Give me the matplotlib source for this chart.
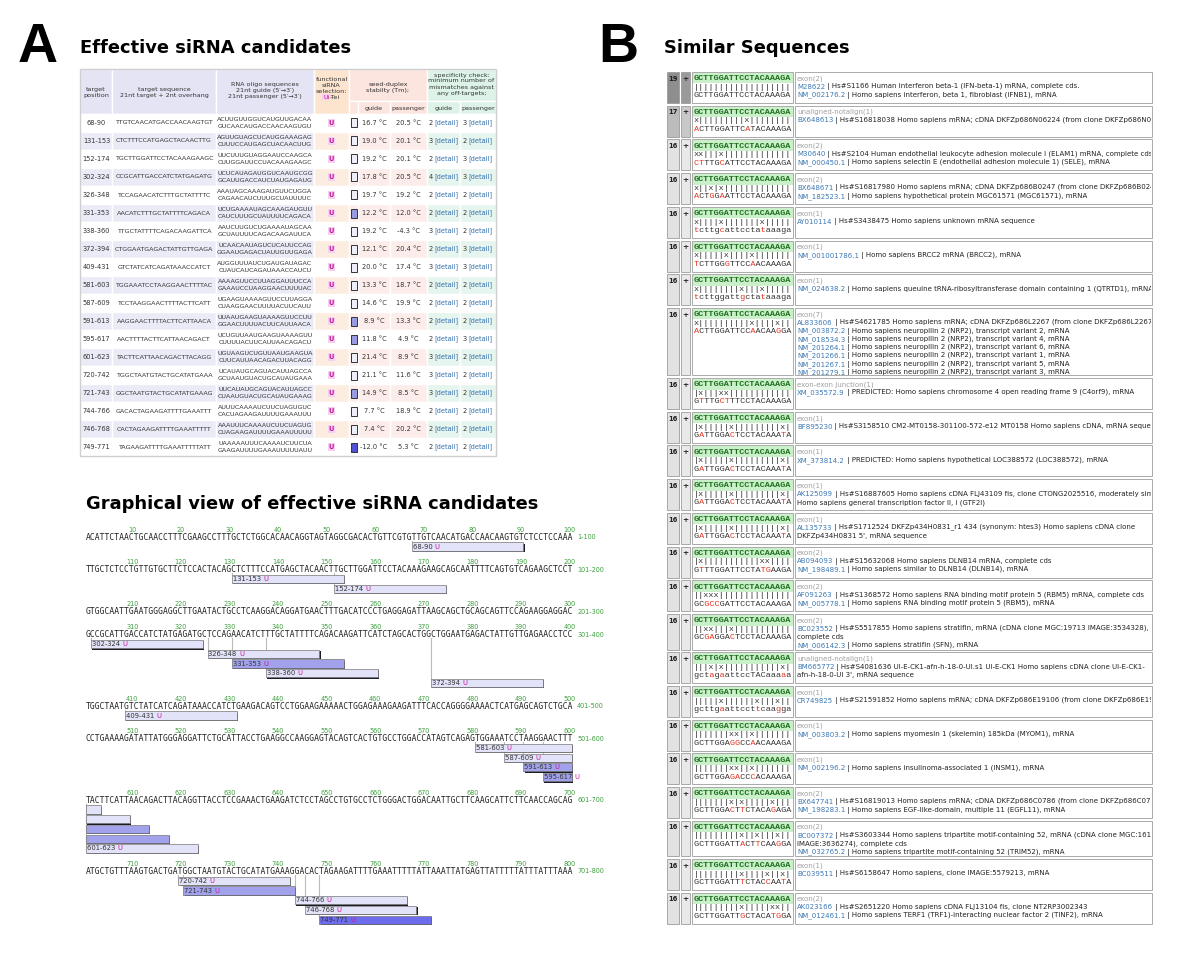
#%%
import matplotlib
matplotlib.use('Agg')
import matplotlib.pyplot as plt
from matplotlib.patches import Rectangle
from matplotlib.transforms import Bbox, TransformedBbox

# mRNA shown in the graphical view, 100 nt per line
mrna_lines = [
    'ACATTCTAACTGCAACCTTTCGAAGCCTTTGCTCTGGCACAACAGGTAGTAGGCGACACTGTTCGTGTTGTCAACATGACCAACAAGTGTCTCCTCCAAA',
    'TTGCTCTCCTGTTGTGCTTCTCCACTACAGCTCTTTCCATGAGCTACAACTTGCTTGGATTCCTACAAAGAAGCAGCAATTTTCAGTGTCAGAAGCTCCT',
    'GTGGCAATTGAATGGGAGGCTTGAATACTGCCTCAAGGACAGGATGAACTTTGACATCCCTGAGGAGATTAAGCAGCTGCAGCAGTTCCAGAAGGAGGAC',
    'GCCGCATTGACCATCTATGAGATGCTCCAGAACATCTTTGCTATTTTCAGACAAGATTCATCTAGCACTGGCTGGAATGAGACTATTGTTGAGAACCTCC',
    'TGGCTAATGTCTATCATCAGATAAACCATCTGAAGACAGTCCTGGAAGAAAAACTGGAGAAAGAAGATTTCACCAGGGGAAAACTCATGAGCAGTCTGCA',
    'CCTGAAAAGATATTATGGGAGGATTCTGCATTACCTGAAGGCCAAGGAGTACAGTCACTGTGCCTGGACCATAGTCAGAGTGGAAATCCTAAGGAACTTT',
    'TACTTCATTAACAGACTTACAGGTTACCTCCGAAACTGAAGATCTCCTAGCCTGTGCCTCTGGGACTGGACAATTGCTTCAAGCATTCTTCAACCAGCAG',
    'ATGCTGTTTAAGTGACTGATGGCTAATGTACTGCATATGAAAGGACACTAGAAGATTTTGAAATTTTTATTAAATTATGAGTTATTTTTATTTATTTAAA',
]

# effective siRNA candidates (panel A table)
sirna_start = [68, 131, 152, 302, 326, 331, 338, 372, 409, 581, 587, 591, 595, 601, 720, 721, 744, 746, 749]
tm_guide = [16.7, 19.0, 19.2, 17.8, 19.7, 12.2, 19.2, 12.1, 20.0, 13.3, 14.6, 8.9, 11.8, 21.4, 21.1, 14.9, 7.7, 7.4, -12.0]
tm_passenger = [20.5, 20.1, 20.1, 20.5, 19.2, 12.0, -4.3, 20.4, 17.4, 18.7, 19.9, 13.3, 4.9, 8.9, 11.6, 8.5, 18.9, 20.2, 5.3]
mm_guide = [2, 3, 2, 4, 2, 2, 3, 2, 3, 2, 2, 2, 2, 3, 3, 3, 2, 2, 2]
mm_passenger = [3, 2, 3, 3, 2, 2, 2, 3, 3, 2, 2, 2, 3, 2, 2, 2, 2, 2, 2]
seed_level = [0, 0, 0, 0, 0, 1, 0, 0, 0, 0, 0, 1, 1, 0, 0, 1, 0, 0, 2]  # shading of the seed box / bar

# similar sequences (panel B)
query = 'GCTTGGATTCCTACAAAGA'
sim_score = [19, 17, 16, 16, 16, 16, 16, 16, 16, 16, 16, 16, 16, 16, 16, 16, 16, 16, 16, 16, 16, 16, 16, 16]
sim_target = [
    'GCTTGGATTCCTACAAAGA', 'ACTTGGATTCATACAAAGA', 'CTTTGCATTCCTACAAAGA', 'ACTGGAATTCCTACAAAGA',
    'tcttgcattcctataaaga', 'TCTTGGGTTCCAACAAAGA', 'tcttggattgctataaaga', 'ACTTGGATTCCAACAAGGA',
    'GTTTGCTTTCCTACAAAGA', 'GATTGGACTCCTACAAATA', 'GATTGGACTCCTACAAATA', 'GATTGGACTCCTACAAATA',
    'GATTGGACTCCTACAAATA', 'GTTTGGATTCCTATGAAGA', 'GCGCCGATTCCTACAAAGA', 'GCGAGGACTCCTACAAAGA',
    'gctagaattccTACaaaaa', 'gcttgaattccttcaagga', 'GCTTGGAGGCCAACAAAGA', 'GCTTGGAGACCCACAAAGA',
    'GCTTGGACTTCTACAGAGA', 'GCTTGGATTACTTCAAGGA', 'GCTTGGATTTCTACCAATA', 'GCTTGGATTGCTACATGGA',
]
sim_region = ['exon(2)', 'unaligned-notalign(1)', 'exon(2)', 'exon(2)', 'exon(1)', 'exon(1)', 'exon(1)', 'exon(7)',
              'exon-exon junction(1)', 'exon(1)', 'exon(1)', 'exon(1)', 'exon(1)', 'exon(2)', 'exon(2)', 'exon(2)',
              'unaligned-notalign(1)', 'exon(1)', 'exon(1)', 'exon(1)', 'exon(2)', 'exon(2)', 'exon(1)', 'exon(2)']
sim_desc = [
    ['M28622 | Hs#S1166 Human interferon beta-1 (IFN-beta-1) mRNA, complete cds.',
     'NM_002176.2 | Homo sapiens interferon, beta 1, fibroblast (IFNB1), mRNA'],
    ['BX648613 | Hs#S16818038 Homo sapiens mRNA; cDNA DKFZp686N06224 (from clone DKFZp686N06224)'],
    ['M30640 | Hs#S2104 Human endothelial leukocyte adhesion molecule I (ELAM1) mRNA, complete cds.',
     'NM_000450.1 | Homo sapiens selectin E (endothelial adhesion molecule 1) (SELE), mRNA'],
    ['BX648671 | Hs#S16817980 Homo sapiens mRNA; cDNA DKFZp686B0247 (from clone DKFZp686B0247)',
     'NM_182523.1 | Homo sapiens hypothetical protein MGC61571 (MGC61571), mRNA'],
    ['AY010114 | Hs#S3438475 Homo sapiens unknown mRNA sequence'],
    ['NM_001001786.1 | Homo sapiens BRCC2 mRNA (BRCC2), mRNA'],
    ['NM_024638.2 | Homo sapiens queuine tRNA-ribosyltransferase domain containing 1 (QTRTD1), mRNA'],
    ['AL833606 | Hs#S4621785 Homo sapiens mRNA; cDNA DKFZp686L2267 (from clone DKFZp686L2267)',
     'NM_003872.2 | Homo sapiens neuropilin 2 (NRP2), transcript variant 2, mRNA',
     'NM_018534.3 | Homo sapiens neuropilin 2 (NRP2), transcript variant 4, mRNA',
     'NM_201264.1 | Homo sapiens neuropilin 2 (NRP2), transcript variant 6, mRNA',
     'NM_201266.1 | Homo sapiens neuropilin 2 (NRP2), transcript variant 1, mRNA',
     'NM_201267.1 | Homo sapiens neuropilin 2 (NRP2), transcript variant 5, mRNA',
     'NM_201279.1 | Homo sapiens neuropilin 2 (NRP2), transcript variant 3, mRNA'],
    ['XM_035572.9 | PREDICTED: Homo sapiens chromosome 4 open reading frame 9 (C4orf9), mRNA'],
    ['BF895230 | Hs#S3158510 CM2-MT0158-301100-572-e12 MT0158 Homo sapiens cDNA, mRNA sequence'],
    ['XM_373814.2 | PREDICTED: Homo sapiens hypothetical LOC388572 (LOC388572), mRNA'],
    ['AK125099 | Hs#S16887605 Homo sapiens cDNA FLJ43109 fis, clone CTONG2025516, moderately similar to',
     'Homo sapiens general transcription factor II, i (GTF2I)'],
    ['AL135733 | Hs#S1712524 DKFZp434H0831_r1 434 (synonym: htes3) Homo sapiens cDNA clone',
     "DKFZp434H0831 5', mRNA sequence"],
    ['AB094093 | Hs#S15632068 Homo sapiens DLNB14 mRNA, complete cds',
     'NM_198489.1 | Homo sapiens similar to DLNB14 (DLNB14), mRNA'],
    ['AF091263 | Hs#S1368572 Homo sapiens RNA binding motif protein 5 (RBM5) mRNA, complete cds',
     'NM_005778.1 | Homo sapiens RNA binding motif protein 5 (RBM5), mRNA'],
    ['BC023552 | Hs#S5517855 Homo sapiens stratifin, mRNA (cDNA clone MGC:19713 IMAGE:3534328),',
     'complete cds',
     'NM_006142.3 | Homo sapiens stratifin (SFN), mRNA'],
    ['BM665772 | Hs#S4081636 UI-E-CK1-afn-h-18-0-UI.s1 UI-E-CK1 Homo sapiens cDNA clone UI-E-CK1-',
     "afn-h-18-0-UI 3', mRNA sequence"],
    ['CR749825 | Hs#S21591852 Homo sapiens mRNA; cDNA DKFZp686E19106 (from clone DKFZp686E19106)'],
    ['NM_003803.2 | Homo sapiens myomesin 1 (skelemin) 185kDa (MYOM1), mRNA'],
    ['NM_002196.2 | Homo sapiens insulinoma-associated 1 (INSM1), mRNA'],
    ['BX647741 | Hs#S16819013 Homo sapiens mRNA; cDNA DKFZp686C0786 (from clone DKFZp686C0786)',
     'NM_198283.1 | Homo sapiens EGF-like-domain, multiple 11 (EGFL11), mRNA'],
    ['BC007372 | Hs#S3603344 Homo sapiens tripartite motif-containing 52, mRNA (cDNA clone MGC:16175',
     'IMAGE:3636274), complete cds',
     'NM_032765.2 | Homo sapiens tripartite motif-containing 52 (TRIM52), mRNA'],
    ['BC039511 | Hs#S6158647 Homo sapiens, clone IMAGE:5579213, mRNA'],
    ['AK023166 | Hs#S2651220 Homo sapiens cDNA FLJ13104 fis, clone NT2RP3002343',
     'NM_012461.1 | Homo sapiens TERF1 (TRF1)-interacting nuclear factor 2 (TINF2), mRNA'],
]

#%%
# helpers
full_seq = ''.join(mrna_lines)
comp = {'A': 'U', 'C': 'G', 'G': 'C', 'T': 'A'}


def target_of(start):
    return full_seq[start - 1:start + 22]


def guide_of(t):
    return ''.join(comp[c] for c in reversed(t[:21]))


def passenger_of(t):
    return t[2:].replace('T', 'U')


fig = plt.figure(figsize=(12, 9.55), dpi=100)
ax = fig.add_axes([0, 0, 1, 1])
ax.set_xlim(0, 1200)
ax.set_ylim(955, 0)
ax.axis('off')

SANS = 'DejaVu Sans'
MONO = 'DejaVu Sans Mono'
MAG = '#c0199e'
DARK = '#333333'


def cell(x0, x1, y0, y1, fc, ec='white', lw=1.0, z=1):
    ax.add_patch(Rectangle((x0, y0), x1 - x0, y1 - y0, facecolor=fc, edgecolor=ec, linewidth=lw, zorder=z))


def stack(x, ys, lines, fs=4.6, **kw):
    for y, s in zip(ys, lines):
        ax.text(x, y, s, ha='center', va='center', fontsize=fs, family=SANS, color=DARK, **kw)


# panel letters and titles
ax.text(38, 48, 'A', fontsize=40, fontweight='bold', family='Liberation Sans', ha='center', va='center')
ax.text(618, 48, 'B', fontsize=40, fontweight='bold', family='Liberation Sans', ha='center', va='center')
ax.text(80, 48, 'Effective siRNA candidates', fontsize=12.9, fontweight='bold', family=SANS, va='center')
ax.text(86, 504, 'Graphical view of effective siRNA candidates', fontsize=12.9, fontweight='bold',
        family=SANS, va='center')
ax.text(664, 48, 'Similar Sequences', fontsize=12.9, fontweight='bold', family=SANS, va='center')

#%%
# Panel A: table
col_x = [80, 112, 216, 314, 349, 358, 390, 427, 460, 496]
lav, peach, pink, mint = '#e4e4f4', '#fde4cf', '#fce4df', '#ddf3e8'
col_bg = [lav, lav, lav, peach, pink, pink, pink, mint, mint]
row_bg = ['#ebebf7', '#ebebf7', '#ebebf7', '#fdede0', '#fcecea', '#fcecea', '#fcecea', '#e6f6ee', '#e6f6ee']
hdr_top, hdr_sub, hdr_bot = 69, 101, 114
row_h = 18

for c in range(4):
    cell(col_x[c], col_x[c + 1], hdr_top, hdr_bot, col_bg[c])
cell(349, 427, hdr_top, hdr_sub, pink)
cell(427, 496, hdr_top, hdr_sub, mint)
for c in range(4, 9):
    cell(col_x[c], col_x[c + 1], hdr_sub, hdr_bot, col_bg[c])

stack(96, [89.3, 95.3], ['target', 'position'])
stack(164, [89.3, 95.3], ['target sequence', '21nt target + 2nt overhang'])
stack(265, [84.3, 90.3, 96.3], ['RNA oligo sequences', '21nt guide (5′→3′)', '21nt passenger (5′→3′)'])
stack(331.5, [79.3, 85.3, 91.3], ['functional', 'siRNA', 'selection:'])
ax.text(329.5, 97.3, 'Ui', ha='right', va='center', fontsize=4.6, family=SANS, color=MAG,
        bbox=dict(boxstyle='square,pad=0.1', fc='#f6cdf0', ec='none'))
ax.text(329.5, 97.3, '-Tei', ha='left', va='center', fontsize=4.6, family=SANS, color=DARK)
stack(388, [84.5, 90.5], ['seed-duplex', 'stabilty (Tm);'])
stack(461.5, [75, 81, 87, 93], ['specificity check:', 'minimum number of', 'mismatches against', 'any off-targets;'])
for x, s in [(374, 'guide'), (408.5, 'passenger'), (443.5, 'guide'), (478, 'passenger')]:
    stack(x, [108.5], [s])

box_fc = ['#eeeef8', '#9a9ae2', '#5252d0']
for i, start in enumerate(sirna_start):
    y0 = hdr_bot + i * row_h
    yc = y0 + row_h / 2
    for c in range(9):
        cell(col_x[c], col_x[c + 1], y0, y0 + row_h, row_bg[c] if i % 2 else 'white')
    t = target_of(start)
    stack(96.5, [yc], [f'{start}-{start + 22}'], fs=4.8)
    stack(164, [yc], [t], fs=4.55)
    stack(265, [yc - 3.6, yc + 3.6], [guide_of(t), passenger_of(t)], fs=4.55)
    ax.add_patch(Rectangle((328, yc - 4), 7, 8, facecolor='#f4d2ef', edgecolor='none', zorder=2))
    ax.text(331.5, yc, 'U', ha='center', va='center', fontsize=4.8, fontweight='bold', color=MAG, zorder=3)
    ax.add_patch(Rectangle((351, yc - 4.5), 5.5, 9, facecolor=box_fc[seed_level[i]], edgecolor='#333333',
                           linewidth=0.7, zorder=2))
    stack(374, [yc], [f'{tm_guide[i]:.1f} °C'], fs=4.8)
    stack(408.5, [yc], [f'{tm_passenger[i]:.1f} °C'], fs=4.8)
    for x, n in [(428.5, mm_guide[i]), (462.5, mm_passenger[i])]:
        ax.text(x, yc, str(n), va='center', fontsize=4.8, family=SANS, color=DARK)
        ax.text(x + 5.8, yc, '[detail]', va='center', fontsize=4.8, family=SANS, color='#3470b0')

ax.add_patch(Rectangle((80, hdr_top), 416, hdr_bot + len(sirna_start) * row_h - hdr_top,
                       facecolor='none', edgecolor='#cfcfcf', linewidth=1.0, zorder=4))

#%%
# Panel A: graphical view
x0_seq, dx = 86, 4.86
green = '#3f9f3f'
bar_fc = ['#e2e2f8', '#a2a2ec', '#6c6cec']
seq_y = 537
for L, line in enumerate(mrna_lines):
    lo, hi = L * 100 + 1, L * 100 + 100
    for k in range(1, 11):
        ax.text(x0_seq + (10 * k - 0.5) * dx, seq_y - 7.5, str(lo - 1 + 10 * k), ha='center', va='center',
                fontsize=4.7, family=SANS, color=green)
    ax.text(x0_seq, seq_y, line, va='center', fontsize=5.81, family=MONO, color='#222222')
    ax.text(577, seq_y, f'{lo}-{hi}', va='center', fontsize=4.7, family=SANS, color=green)

    bars = [(s, lev) for s, lev in zip(sirna_start, seed_level) if s <= hi and s + 22 >= lo]
    for r, (s, lev) in enumerate(bars):
        a, b = max(s, lo), min(s + 22, hi)
        bx = x0_seq + (a - lo) * dx
        bw = (b - a + 1) * dx
        by = seq_y + 5.3 + r * 9.7
        ax.add_patch(Rectangle((bx + 1.3, by + 1.3), bw, 8.3, facecolor='#1c1c28', edgecolor='none', zorder=5))
        ax.add_patch(Rectangle((bx, by), bw, 8.3, facecolor=bar_fc[lev], edgecolor='#777777',
                               linewidth=0.5, zorder=6))
        if s >= lo:
            ax.plot([bx, bx], [seq_y + 3.5, by], color='#bbbbbb', linewidth=0.8, zorder=3)
            lab = ax.text(bx + 1, by + 4.2, f'{s}-{s + 22} ', va='center', fontsize=4.9, family=SANS,
                          color=DARK, zorder=7)
            ax.annotate('U', xy=(1, 0.5), xycoords=lab, va='center', ha='left', fontsize=4.9,
                        family=SANS, color=MAG, zorder=7)
    last = seq_y + 9.5 + (len(bars) - 1) * 9.7 if bars else seq_y
    seq_y = last + 23

#%%
# Panel B: similar sequences
x_score, x_plus, x_aln, x_desc, x_end = 667, 681, 692, 795, 1152
score_bg = {19: '#8e8e8e', 17: '#bcbcbc', 16: '#e2e2e2'}
plus_bg = {19: '#9a9a9a', 17: '#c8c8c8', 16: '#e9e9e9'}
edge = '#9c9c9c'
fsd = 5.05

top = 72
for i, tgt in enumerate(sim_target):
    n = 1 + len(sim_desc[i])
    h = max(31.0, 3.5 + 8.0 * n)
    sc = sim_score[i]
    cell(x_score, x_plus - 2, top, top + h, score_bg[sc], ec=edge, lw=0.6)
    cell(x_plus, x_aln - 2, top, top + h, plus_bg[sc], ec=edge, lw=0.6)
    cell(x_aln, x_desc - 2, top, top + h, 'white', ec=edge, lw=0.6)
    cell(x_desc, x_end, top, top + h, 'white', ec=edge, lw=0.6)
    ax.text(673, top + 6.7, str(sc), ha='center', va='center', fontsize=4.9, fontweight='bold', color='#222222')
    ax.text(685.5, top + 6.7, '+', ha='center', va='center', fontsize=5.3, fontweight='bold', color='#222222')

    # alignment: query, match line, hit with mismatches in red
    ax.add_patch(Rectangle((x_aln + 0.5, top + 1), x_desc - x_aln - 3, 10.5, facecolor='#c9f0c9',
                           edgecolor='none', zorder=2))
    mono = dict(va='center', fontsize=6.1, family='Liberation Mono', zorder=3)
    ax.text(x_aln + 1.5, top + 6.7, query, color='#1e6e1e', fontweight='bold', **mono)
    mism = [q.upper() != c.upper() for q, c in zip(query, tgt)]
    ax.text(x_aln + 1.5, top + 15.2, ''.join('x' if m else '|' for m in mism), color=DARK, **mono)
    ax.text(x_aln + 1.5, top + 23.7, ''.join(' ' if m else c for m, c in zip(mism, tgt)), color=DARK, **mono)
    ax.text(x_aln + 1.5, top + 23.7, ''.join(c if m else ' ' for m, c in zip(mism, tgt)), color='#e8321e', **mono)

    # description, clipped at the right edge of the cell
    cb = TransformedBbox(Bbox([[x_desc, top], [x_end - 1, top + h]]), ax.transData)
    desc_texts = [ax.text(x_desc + 2, top + 6.5, sim_region[i], va='center', fontsize=fsd, family=SANS,
                          color='#a0a0a0')]
    for k, s in enumerate(sim_desc[i]):
        y = top + 6.5 + 8.3 * (k + 1)
        if ' | ' in s:
            acc, rest = s.split(' | ', 1)
            t1 = ax.text(x_desc + 2, y, acc, va='center', fontsize=fsd, family=SANS, color='#3b78b5')
            t2 = ax.annotate(' | ' + rest, xy=(1, 0.5), xycoords=t1, va='center', ha='left', fontsize=fsd,
                             family=SANS, color='#222222', annotation_clip=False)
            desc_texts += [t1, t2]
        else:
            desc_texts.append(ax.text(x_desc + 2, y, s, va='center', fontsize=fsd, family=SANS, color='#222222'))
    for t in desc_texts:
        t.set_clip_on(True)
        t.set_clip_path(None)
        t.set_clip_box(cb)
    top += h + 2.7

fig.savefig('out.png', dpi=100)
